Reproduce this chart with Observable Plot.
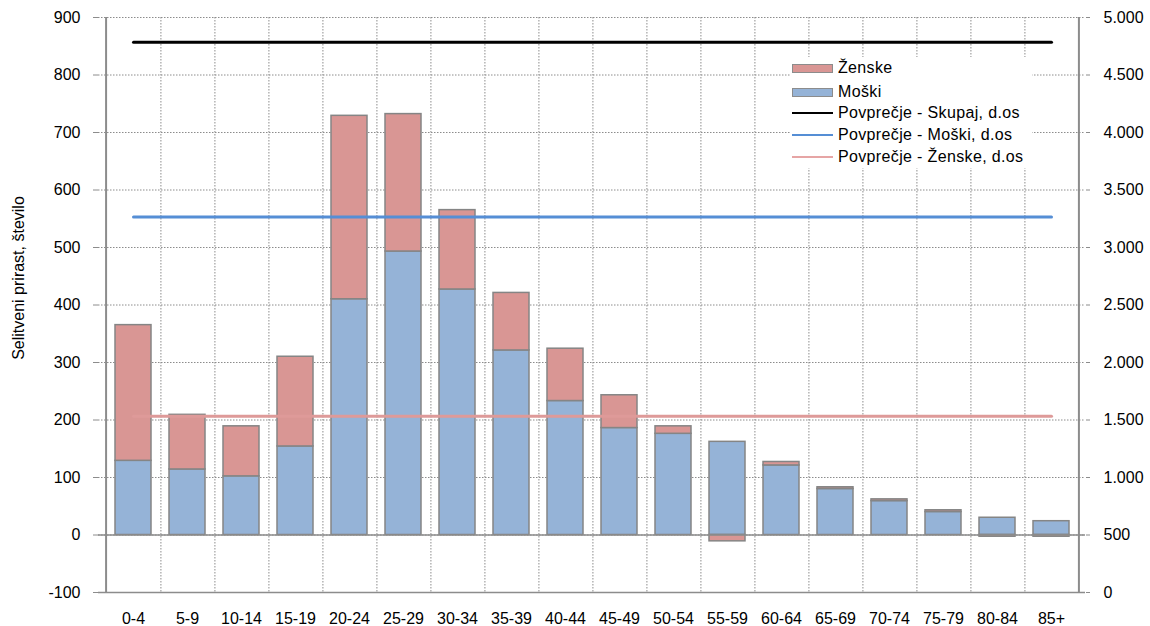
<!DOCTYPE html>
<html>
<head>
<meta charset="utf-8">
<script src="https://cdn.jsdelivr.net/npm/d3@7"></script>
<script src="https://cdn.jsdelivr.net/npm/@observablehq/plot@0.6"></script>
<style>
  html, body { margin: 0; padding: 0; background: #fff; }
  #wrap { position: relative; width: 1150px; height: 626px; font-family: "Liberation Sans", Arial, sans-serif; }
  #legend { position: absolute; left: 790px; top: 57px; width: 242px; height: 111px; background: #fff; font-size: 16px; letter-spacing: 0.35px; color: #000; }
  .row { position: absolute; left: 0; height: 20px; display: flex; align-items: center; white-space: nowrap; }
  .sw { width: 39px; height: 7px; border: 1.5px solid #8c8c8c; margin-left: 2px; margin-right: 5px; }
  .ln { width: 41px; height: 2px; margin-left: 2px; margin-right: 5px; }
</style>
</head>
<body>
<div id="wrap"></div>
<script>
const categories = ["0-4","5-9","10-14","15-19","20-24","25-29","30-34","35-39","40-44","45-49","50-54","55-59","60-64","65-69","70-74","75-79","80-84","85+"];
const moski  = [129, 114, 102, 154, 410, 493, 427, 321, 233, 186, 176, 162, 121, 80, 59, 40, 30, 24];
const zenske = [236,  95,  87, 156, 319, 239, 138, 100,  91,  57,  13, -11,   6,  3,  3,  3, -3, -3];
// averages, read on the secondary (right) axis
const avgSkupaj = 4785;
const avgMoski = 3265;
const avgZenske = 1532;
const leftTicks = [-100, 0, 100, 200, 300, 400, 500, 600, 700, 800, 900];
const rightTickLabels = ["0", "500", "1.000", "1.500", "2.000", "2.500", "3.000", "3.500", "4.000", "4.500", "5.000"];
const yTitle = "Selitveni prirast, število";

// secondary axis 0..5000 maps onto primary -100..900
const toLeft = v => v / 5 - 100;

const rows = [];
categories.forEach((c, i) => {
  rows.push({age: c, sex: "Moški", value: moski[i]});
  rows.push({age: c, sex: "Ženske", value: zenske[i]});
});
const avgLine = v => categories.map(c => ({age: c, v: toLeft(v)}));

const W = 1150, H = 626, mL = 98, mR = 65, mT = 17, mB = 34;
const step = (W - mL - mR) / categories.length;
const grid = "#8c8c8c";

const chart = Plot.plot({
  width: W, height: H,
  marginLeft: mL, marginRight: mR, marginTop: mT, marginBottom: mB,
  style: {fontFamily: "'Liberation Sans', Arial, sans-serif", fontSize: "16px", color: "#000", background: "#fff"},
  x: {domain: categories, paddingInner: 0.34, paddingOuter: 0.17, label: null},
  y: {domain: [-100, 900], label: null},
  color: {domain: ["Moški", "Ženske"], range: ["#95B3D7", "#D99694"]},
  marks: [
    Plot.gridY({ticks: leftTicks, stroke: grid, strokeOpacity: 1, strokeWidth: 1, strokeDasharray: "1.5,1.5"}),
    Plot.ruleX(categories.slice(0, -1), {dx: step / 2, stroke: grid, strokeOpacity: 1, strokeDasharray: "1.5,1.5"}),
    Plot.barY(rows, Plot.stackY({x: "age", y: "value", fill: "sex", order: ["Moški", "Ženske"], stroke: "#858585", strokeWidth: 1.5})),
    Plot.ruleY([0, -100], {stroke: grid, strokeWidth: 1.5}),
    Plot.ruleX([categories[0]], {dx: -step / 2, stroke: grid, strokeWidth: 2}),
    Plot.ruleX([categories[categories.length - 1]], {dx: step / 2, stroke: grid, strokeWidth: 2}),
    Plot.lineY(avgLine(avgSkupaj), {x: "age", y: "v", stroke: "#000", strokeWidth: 3}),
    Plot.lineY(avgLine(avgMoski), {x: "age", y: "v", stroke: "#558ED5", strokeWidth: 3}),
    Plot.lineY(avgLine(avgZenske), {x: "age", y: "v", stroke: "#DE9A99", strokeWidth: 3}),
    Plot.axisY({anchor: "left", ticks: leftTicks, tickSize: 5, tickPadding: 13, stroke: grid, fill: "#000", label: null, tickFormat: d => String(d)}),
    Plot.axisY({anchor: "right", ticks: leftTicks, tickSize: 4, tickPadding: 14, stroke: grid, fill: "#000", label: null, tickFormat: d => rightTickLabels[leftTicks.indexOf(d)]}),
    Plot.axisX({tickSize: 0, tickPadding: 20, fill: "#000", label: null})
  ]
});

const wrap = document.getElementById("wrap");
wrap.appendChild(chart);

d3.select(chart).append("text")
  .attr("transform", "translate(18,278) rotate(-90)")
  .attr("text-anchor", "middle")
  .attr("dominant-baseline", "central")
  .attr("fill", "#000")
  .style("font-size", "16px")
  .text(yTitle);

// legend
const legendItems = [
  {label: "Ženske", type: "sw", color: "#D99694", top: 1},
  {label: "Moški", type: "sw", color: "#95B3D7", top: 25},
  {label: "Povprečje - Skupaj, d.os", type: "ln", color: "#000", top: 46},
  {label: "Povprečje - Moški, d.os", type: "ln", color: "#558ED5", top: 68},
  {label: "Povprečje - Ženske, d.os", type: "ln", color: "#E6A5A5", top: 90}
];
const leg = document.createElement("div");
leg.id = "legend";
legendItems.forEach(it => {
  const r = document.createElement("div");
  r.className = "row";
  r.style.top = it.top + "px";
  const s = document.createElement("div");
  s.className = it.type;
  s.style.background = it.color;
  const t = document.createElement("span");
  t.textContent = it.label;
  r.appendChild(s); r.appendChild(t);
  leg.appendChild(r);
});
wrap.appendChild(leg);
</script>
</body>
</html>
